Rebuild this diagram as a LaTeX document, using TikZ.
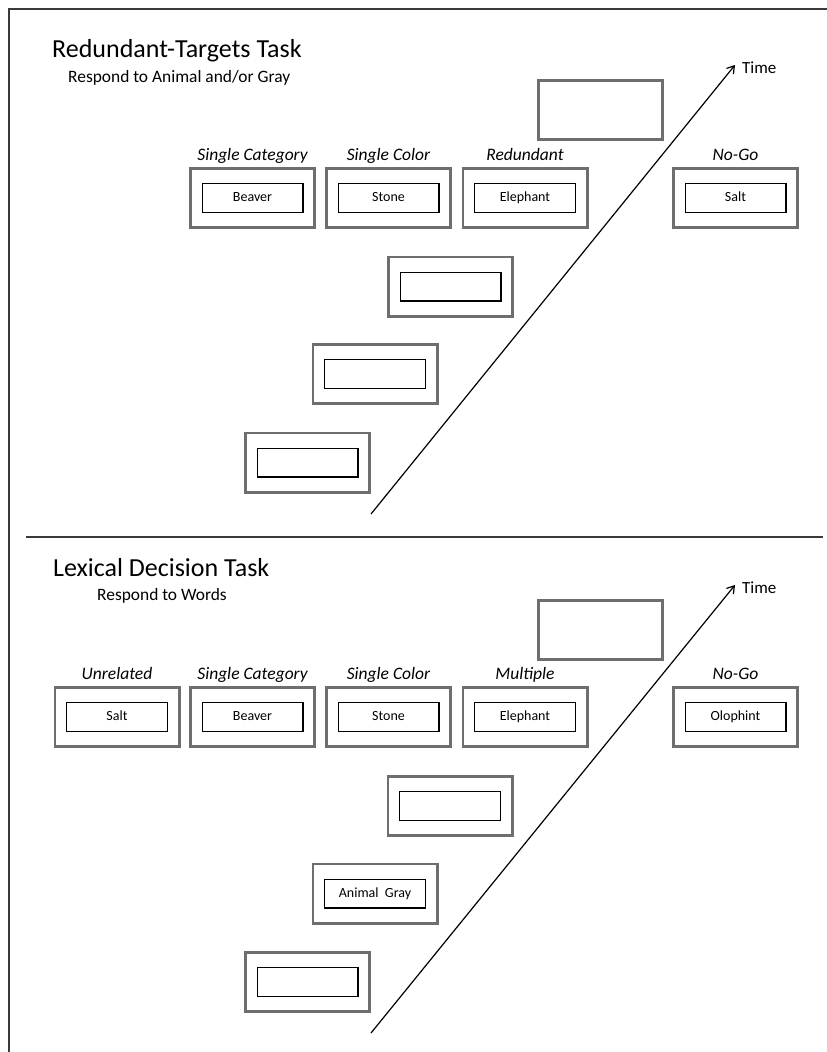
\documentclass[tikz,border=0pt]{standalone}
\usepackage{fontspec}
\setmainfont{Carlito}
\usetikzlibrary{arrows.meta}
\definecolor{boxgray}{HTML}{6E6E6E}
\definecolor{framegray}{HTML}{3A3A3A}
\begin{document}
\begin{tikzpicture}[x=1pt,y=-1pt,
  outerbox/.style={draw=boxgray, line width=2.6pt, minimum width=124.4pt, minimum height=59.4pt, inner sep=0pt},
  innerbox/.style={draw=black, line width=1.3pt, minimum width=100.7pt, minimum height=28.7pt, inner sep=0pt, text height=9.6pt, text depth=2.6pt, font=\fontsize{14}{16}\selectfont},
  cond/.style={anchor=base, inner sep=0pt, font=\fontsize{17.5}{20}\selectfont\itshape},
  titletext/.style={anchor=base west, inner sep=0pt, font=\fontsize{26}{30}\selectfont},
  subtext/.style={anchor=base west, inner sep=0pt, font=\fontsize{17.4}{20}\selectfont},
  timelabel/.style={anchor=west, inner sep=0pt, font=\fontsize{17}{20}\selectfont},
  timeline/.style={draw=black, line width=1.2pt, -{Straight Barb[length=7pt,width=9pt]}},
  frameline/.style={draw=framegray, line width=1.8pt}]
\useasboundingbox (0,0) rectangle (827,1052);
% frame and divider
\coordinate (fbl) at (9,1052);
\coordinate (ftl) at (9,9);
\coordinate (ftr) at (827,9);
\coordinate (dl) at (26,537);
\coordinate (dr) at (823,537);
\draw[frameline] (fbl) -- (ftl) -- (ftr);
\draw[frameline] (dl) -- (dr);

% ===== Top section =====
\node[titletext] (t1) at (52,57) {Redundant-Targets Task};
\node[subtext] (s1) at (68,82) {Respond to Animal and/or Gray};

\node[outerbox] (a1) at (252.5,198) {};
\node[innerbox] (a1i) at (a1) {Beaver};
\node[cond] (a1l) at (252.5,160) {Single Category};

\node[outerbox] (b1) at (388.5,198) {};
\node[innerbox] (b1i) at (b1) {Stone};
\node[cond] (b1l) at (388.5,160) {Single Color};

\node[outerbox] (c1) at (525,198) {};
\node[innerbox] (c1i) at (c1) {Elephant};
\node[cond] (c1l) at (525,160) {Redundant};

\node[outerbox] (d1) at (735.5,198) {};
\node[innerbox] (d1i) at (d1) {Salt};
\node[cond] (d1l) at (735.5,160) {No-Go};

\node[outerbox] (e1) at (600.5,110) {};

\node[outerbox] (sa1) at (450.5,286.5) {};
\node[innerbox] (sa1i) at (sa1) {};
\node[outerbox] (sb1) at (375,374) {};
\node[innerbox] (sb1i) at (sb1) {};
\node[outerbox] (sc1) at (307.5,462.5) {};
\node[innerbox] (sc1i) at (sc1) {};

\coordinate (ar1s) at (371,514);
\coordinate (ar1e) at (735,65);
\draw[timeline] (ar1s) -- (ar1e);
\node[timelabel] (tm1) at (742,68) {Time};

% ===== Bottom section =====
\node[titletext] (t2) at (53,576) {Lexical Decision Task};
\node[subtext] (s2) at (97,600) {Respond to Words};

\node[outerbox] (u2) at (117,717) {};
\node[innerbox] (u2i) at (u2) {Salt};
\node[cond] (u2l) at (117,679) {Unrelated};

\node[outerbox] (a2) at (252.5,717) {};
\node[innerbox] (a2i) at (a2) {Beaver};
\node[cond] (a2l) at (252.5,679) {Single Category};

\node[outerbox] (b2) at (388.5,717) {};
\node[innerbox] (b2i) at (b2) {Stone};
\node[cond] (b2l) at (388.5,679) {Single Color};

\node[outerbox] (c2) at (525,717) {};
\node[innerbox] (c2i) at (c2) {Elephant};
\node[cond] (c2l) at (525,679) {Multiple};

\node[outerbox] (d2) at (735.5,717) {};
\node[innerbox] (d2i) at (d2) {Olophint};
\node[cond] (d2l) at (735.5,679) {No-Go};

\node[outerbox] (e2) at (600.5,630) {};

\node[outerbox] (sa2) at (450,806) {};
\node[innerbox] (sa2i) at (sa2) {};
\node[outerbox] (sb2) at (375,893.5) {};
\node[innerbox] (sb2i) at (sb2) {Animal~ Gray};
\node[outerbox] (sc2) at (307.5,982) {};
\node[innerbox] (sc2i) at (sc2) {};

\coordinate (ar2s) at (371,1033);
\coordinate (ar2e) at (735,585);
\draw[timeline] (ar2s) -- (ar2e);
\node[timelabel] (tm2) at (742,588) {Time};
\end{tikzpicture}
\end{document}
